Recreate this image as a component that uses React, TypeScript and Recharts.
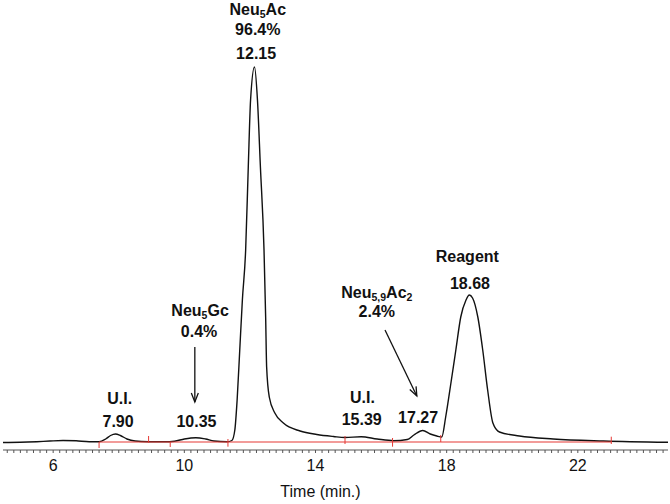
import React from 'react';
import { ComposedChart, Line, XAxis, YAxis, ReferenceDot, ReferenceLine } from 'recharts';

// Chromatogram trace (retention time in min, detector signal in arbitrary units)
const timeMin = [
  4.47, 5.0, 5.5, 5.9, 6.3, 6.7, 7.1, 7.4, 7.6, 7.75, 7.9, 8.05, 8.25, 8.5, 8.9,
  9.4, 9.7, 10.0, 10.35, 10.65, 10.9, 11.3, 11.45, 11.54, 11.61, 11.69, 11.77, 11.87,
  11.95, 12.02, 12.14, 12.23, 12.32, 12.43, 12.48, 12.51, 12.59, 12.76, 13.02, 13.53,
  14.04, 14.55, 14.9, 15.39, 15.88, 16.38, 16.8, 17.0, 17.27, 17.5, 17.7, 17.85, 17.97,
  18.13, 18.28, 18.43, 18.59, 18.69, 18.79, 18.95, 19.1, 19.25, 19.41, 19.61, 20.22,
  21.25, 22.78, 24.75,
];
const signal = [
  -0.5, -0.3, 0.3, 1.0, 1.5, 1.2, 0.3, 0.3, 3, 6.5, 8, 6.5, 3, 1, 0.3,
  0.2, 0.8, 3, 4.3, 3, 1, 0.2, 1.5, 12, 42, 92, 142, 192,
  275, 342, 375, 342, 275, 192, 125, 75, 45, 29, 19, 11,
  7.5, 5.5, 4.5, 5.3, 3, 1.3, 2.5, 7, 11.5, 8, 6, 5, 25,
  59, 92, 125, 142, 147, 144, 125, 92, 52, 19, 10, 6,
  3, 1, -0.3,
];

// Axis
const xDomain = [4.47, 24.75];
const yDomain = [-8, 376];
const tickLabels = [6, 10, 14, 18, 22];
const minorStep = 0.2;

// Peak annotations ({...} = subscript)
const annotationText = ['Neu{5}Ac', '96.4%', '12.15', 'U.I.', '7.90', 'Neu{5}Gc', '0.4%', '10.35', 'U.I.', '15.39', '17.27', 'Neu{5,9}Ac{2}', '2.4%', 'Reagent', '18.68'];
const annotationT = [12.24, 12.24, 12.19, 8.03, 7.98, 10.48, 10.45, 10.37, 15.43, 15.41, 17.13, 15.87, 15.87, 18.63, 18.71];
const annotationV = [427, 407, 382.7, 38, 15.3, 126, 104.7, 15.3, 38.7, 17, 18.7, 144.5, 125, 180, 152.7];

// Arrows [from t, from v, to t, to v]
const arrowFromT = [10.32, 16.12];
const arrowFromV = [95, 112];
const arrowToT = [10.32, 17.09];
const arrowToV = [40, 46];

// Integration baseline (red) and peak cut marks
const baselineStart = 7.4;
const baselineEnd = 23.02;
const cutT = [7.4, 8.91, 9.57, 11.33, 14.9, 16.35, 17.82, 23.02];
const cutLo = [-6, -0.7, -5, -4.7, -2, -4.7, 0, -2];
const cutHi = [0, 6, 0, 3, 6, 4, 7, 5.3];

const data = timeMin.map((t, i) => ({ t, s: signal[i] }));
const minorTicks = Array.from({ length: 101 }, (_, i) => Math.round((4.6 + i * minorStep) * 10) / 10);

const FONT = 'Liberation Sans, Arial, Helvetica, sans-serif';

function richText(s: string) {
  const parts = s.split(/(\{[^}]*\})/).filter((p) => p.length > 0);
  let prevSub = false;
  return parts.map((p, i) => {
    if (p.startsWith('{')) {
      const el = (
        <tspan key={i} dy={prevSub ? 0 : 3} fontSize={10.5}>
          {p.slice(1, -1)}
        </tspan>
      );
      prevSub = true;
      return el;
    }
    const el = (
      <tspan key={i} dy={prevSub ? -3 : 0}>
        {p}
      </tspan>
    );
    prevSub = false;
    return el;
  });
}

const AxisTick = (props: any) => {
  const { x, y, payload } = props;
  if (!tickLabels.includes(payload.value)) return <g />;
  return (
    <text x={x} y={y} dy={16} textAnchor="middle" fontSize={16} fontFamily={FONT} fill="#111">
      {payload.value}
    </text>
  );
};

const ArrowShape = (p: any) => {
  const { x1, y1, x2, y2 } = p;
  const dx = x2 - x1;
  const dy = y2 - y1;
  const len = Math.hypot(dx, dy) || 1;
  const ux = dx / len;
  const uy = dy / len;
  const hl = 9;
  const hw = 3.5;
  const bx = x2 - ux * hl;
  const by = y2 - uy * hl;
  return (
    <g>
      <line x1={x1} y1={y1} x2={x2} y2={y2} stroke="#111" strokeWidth={1.3} />
      <polyline
        points={`${bx - uy * hw},${by + ux * hw} ${x2},${y2} ${bx + uy * hw},${by - ux * hw}`}
        fill="none"
        stroke="#111"
        strokeWidth={1.3}
      />
    </g>
  );
};

export default function App() {
  return (
    <div style={{ position: 'absolute', left: 0, top: 0, width: 670, height: 504, background: '#fff' }}>
      <ComposedChart width={670} height={504} data={data} margin={{ top: 66, right: 2, bottom: 0, left: 3 }}>
        <XAxis
          type="number"
          dataKey="t"
          domain={xDomain}
          ticks={minorTicks}
          interval={0}
          tick={<AxisTick />}
          tickSize={3}
          tickLine={{ stroke: '#555' }}
          axisLine={{ stroke: '#555' }}
          height={54}
          label={{
            value: 'Time (min.)',
            position: 'insideBottom',
            offset: 7,
            dx: -15,
            fontSize: 16,
            fontFamily: FONT,
            fill: '#111',
          }}
        />
        <YAxis hide type="number" domain={yDomain} />
        <Line
          type="monotone"
          dataKey="s"
          stroke="#111"
          strokeWidth={1.4}
          dot={false}
          isAnimationActive={false}
        />
        <ReferenceLine
          segment={[
            { x: baselineStart, y: 0 },
            { x: baselineEnd, y: 0 },
          ]}
          stroke="#e53935"
          strokeWidth={1.2}
          ifOverflow="visible"
        />
        {cutT.map((t, i) => (
          <ReferenceLine
            key={'c' + i}
            segment={[
              { x: t, y: cutLo[i] },
              { x: t, y: cutHi[i] },
            ]}
            stroke="#e53935"
            strokeWidth={1}
            ifOverflow="visible"
          />
        ))}
        {arrowFromT.map((t, i) => (
          <ReferenceLine
            key={'a' + i}
            segment={[
              { x: t, y: arrowFromV[i] },
              { x: arrowToT[i], y: arrowToV[i] },
            ]}
            ifOverflow="visible"
            shape={ArrowShape}
          />
        ))}
        {annotationText.map((s, i) => (
          <ReferenceDot
            key={'n' + i}
            x={annotationT[i]}
            y={annotationV[i]}
            r={0}
            ifOverflow="visible"
            shape={(p: any) => (
              <text
                x={p.cx}
                y={p.cy}
                textAnchor="middle"
                fontSize={16}
                fontWeight="bold"
                fontFamily={FONT}
                fill="#111"
              >
                {richText(s)}
              </text>
            )}
          />
        ))}
      </ComposedChart>
    </div>
  );
}
